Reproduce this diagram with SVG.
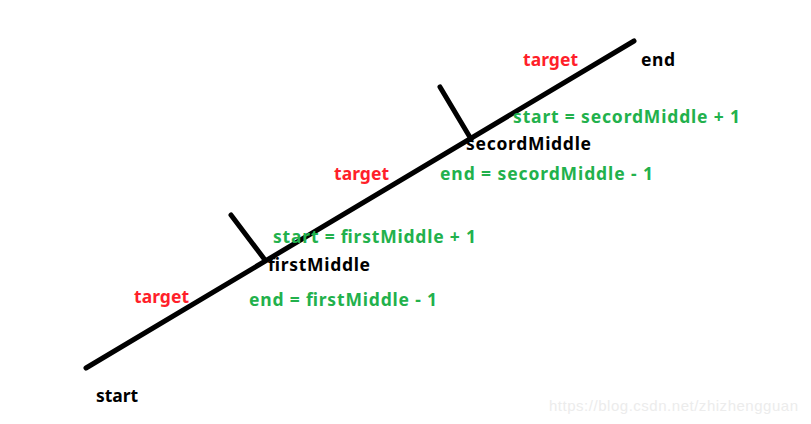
<svg xmlns="http://www.w3.org/2000/svg" width="811" height="424" viewBox="0 0 811 424">
<style>
.t{font-family:"Noto Sans","Open Sans",sans-serif;font-weight:bold;font-size:17.5px}
.r{fill:#ff1f2a}
.g{fill:#22b14c}
.k{fill:#000}
.ln{stroke:#000;stroke-width:5;stroke-linecap:round;fill:none}
.wm{font-family:"Liberation Sans",Arial,sans-serif;font-size:15px;fill:#ececec}
</style>
<rect width="811" height="424" fill="#fff"/>
<g id="connectors">
<line class="ln" x1="86" y1="368" x2="634" y2="41"/>
<line class="ln" x1="231" y1="215" x2="265" y2="260"/>
<line class="ln" x1="440" y1="87" x2="471" y2="139"/>
</g>
<g id="end-node"><text class="t k" x="641" y="66" textLength="34">end</text></g>
<g id="target3"><text class="t r" x="523" y="66" textLength="55">target</text></g>
<g id="second-middle">
<text class="t g" x="513" y="123" textLength="227">start = secordMiddle + 1</text>
<text class="t k" x="466" y="150" textLength="125">secordMiddle</text>
<text class="t g" x="440" y="180" textLength="213">end = secordMiddle - 1</text>
</g>
<g id="target2"><text class="t r" x="334" y="180" textLength="55">target</text></g>
<g id="first-middle">
<text class="t g" x="273" y="243" textLength="203">start = firstMiddle + 1</text>
<text class="t k" x="268" y="271" textLength="102">firstMiddle</text>
<text class="t g" x="249" y="306" textLength="188">end = firstMiddle - 1</text>
</g>
<g id="target1"><text class="t r" x="134" y="303" textLength="55">target</text></g>
<g id="start-node"><text class="t k" x="96" y="402" textLength="42">start</text></g>
<text class="wm" x="549" y="411" textLength="249">https://blog.csdn.net/zhizhengguan</text>
</svg>
